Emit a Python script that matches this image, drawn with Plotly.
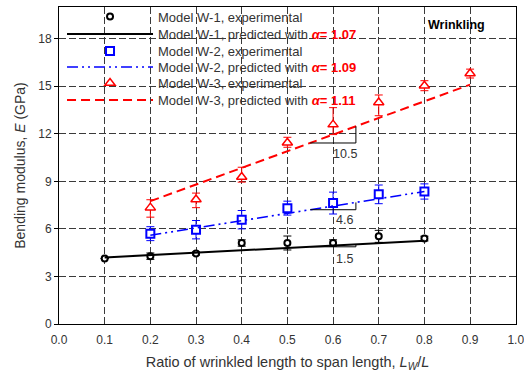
import plotly.graph_objects as go

# Ratio of wrinkled length to span length (L_W / L)
x_w1 = [0.1, 0.2, 0.3, 0.4, 0.5, 0.6, 0.7, 0.8]
x_w2 = [0.2, 0.3, 0.4, 0.5, 0.6, 0.7, 0.8]
x_w3 = [0.2, 0.3, 0.4, 0.5, 0.6, 0.7, 0.8, 0.9]

# Experimental bending modulus (GPa) with scatter
exp_w1 = [4.13, 4.28, 4.45, 5.11, 5.11, 5.11, 5.53, 5.39]
up_w1 = [0.0, 0.2, 0.1, 0.2, 0.44, 0.2, 0.38, 0.15]
dn_w1 = [0.0, 0.2, 0.1, 0.2, 0.44, 0.2, 0.38, 0.15]

exp_w2 = [5.70, 5.95, 6.58, 7.31, 7.63, 8.18, 8.36]
up_w2 = [0.44, 0.58, 0.58, 0.44, 0.69, 0.59, 0.48]
dn_w2 = [0.44, 0.58, 0.58, 0.44, 0.69, 0.59, 0.48]

exp_w3 = [7.34, 7.86, 9.27, 11.43, 12.58, 13.98, 15.03, 15.80]
up_w3 = [0.50, 0.40, 0.62, 0.35, 1.07, 0.47, 0.32, 0.28]
dn_w3 = [0.60, 0.52, 0.32, 0.28, 0.63, 0.84, 0.31, 0.28]

# Predicted bending modulus (GPa)
pred_w1 = [4.20, 4.35, 4.50, 4.65, 4.80, 4.95, 5.10, 5.25]
pred_w2 = [5.60, 6.06, 6.52, 6.98, 7.44, 7.90, 8.36]
pred_w3 = [7.75, 8.80, 9.85, 10.90, 11.95, 13.00, 14.05, 15.10]

alphas = ["1.07", "1.09", "1.11"]

# Slope triangles (x legs, y legs per model) and their slope labels
tri_x = [0.55, 0.65, 0.65]
tri_y_w1 = [4.87, 4.87, 5.02]
tri_y_w2 = [7.21, 7.21, 7.67]
tri_y_w3 = [11.42, 11.42, 12.47]
slope_labels = ["1.5", "4.6", "10.5"]
slope_label_y = [4.13, 6.54, 10.74]
slope_label_x = 0.626

x_ticks = [0.0, 0.1, 0.2, 0.3, 0.4, 0.5, 0.6, 0.7, 0.8, 0.9, 1.0]
y_ticks = [0, 3, 6, 9, 12, 15, 18]

FONT = "Liberation Sans, Arial, sans-serif"
TXT = "#333333"

# one single-entry legend per row so the rows sit tightly stacked
LEGEND_X = 0.0066
LEGEND_ROWS_Y = [0.970, 0.9148, 0.8612, 0.8107, 0.7603, 0.7066]


def pred_name(model, a):
    return (f"Model {model}, predicted with "
            f"<span style='color:#ff0000'><b><i>α</i>= {a}</b></span>")


fig = go.Figure()

series = [
    ("W-1", x_w1, exp_w1, up_w1, dn_w1, pred_w1, "black",
     dict(symbol="circle", size=6, color="white", line=dict(color="black", width=2)),
     dict(color="black", width=2, dash="solid")),
    ("W-2", x_w2, exp_w2, up_w2, dn_w2, pred_w2, "#0000ff",
     dict(symbol="square", size=8, color="white", line=dict(color="#0000ff", width=2)),
     dict(color="#0000ff", width=1.6, dash="11px,4px,2px,4px,2px,4px")),
    ("W-3", x_w3, exp_w3, up_w3, dn_w3, pred_w3, "#ff0000",
     dict(symbol="triangle-up", size=9, color="white", line=dict(color="#ff0000", width=1.5)),
     dict(color="#ff0000", width=2, dash="9px,5px")),
]

legend_ids = ["legend", "legend2", "legend3", "legend4", "legend5", "legend6"]

for i, (model, xs, ys, up, dn, pred, col, mk, ln) in enumerate(series):
    fig.add_trace(go.Scatter(
        x=xs, y=ys, mode="markers", marker=mk,
        error_y=dict(type="data", array=up, arrayminus=dn, symmetric=False,
                     color=col, thickness=1, width=4),
        name=f"Model {model}, experimental", legend=legend_ids[2 * i],
    ))
    fig.add_trace(go.Scatter(
        x=xs, y=pred, mode="lines", line=ln,
        name=pred_name(model, alphas[i]), legend=legend_ids[2 * i + 1],
    ))

for ty in (tri_y_w1, tri_y_w2, tri_y_w3):
    fig.add_trace(go.Scatter(
        x=tri_x, y=ty, mode="lines", line=dict(color="black", width=1),
        showlegend=False, hoverinfo="skip",
    ))

for lab, ly in zip(slope_labels, slope_label_y):
    fig.add_annotation(x=slope_label_x, y=ly, text=lab, showarrow=False,
                       font=dict(family=FONT, size=12.5, color=TXT))

fig.add_annotation(x=0.871, y=18.88, text="<b>Wrinkling</b>", showarrow=False,
                   font=dict(family=FONT, size=12.5, color="black"))

grid = dict(showgrid=True, gridcolor="#3a3a3a", gridwidth=1, griddash="7px,3px",
            showline=True, linecolor="black", linewidth=1, mirror=True,
            zeroline=False, automargin=False)

legend_style = dict(xanchor="left", yanchor="middle", bgcolor="rgba(0,0,0,0)",
                    borderwidth=0, itemwidth=86,
                    font=dict(family=FONT, size=13, color=TXT))

layout_legends = {}
for lid, ly in zip(legend_ids, LEGEND_ROWS_Y):
    layout_legends[lid] = dict(x=LEGEND_X, y=ly, **legend_style)

fig.update_layout(
    width=524, height=385,
    margin=dict(l=59, r=8, t=7, b=61, pad=0, autoexpand=False),
    paper_bgcolor="white", plot_bgcolor="white",
    font=dict(family=FONT, size=12, color=TXT),
    showlegend=True,
    **layout_legends,
    xaxis=dict(range=[0, 1.0005], tickvals=x_ticks,
               ticktext=[f"{v:.1f}" for v in x_ticks],
               ticklabeloverflow="allow",
               ticks="outside", ticklen=5, tickcolor="rgba(0,0,0,0)",
               title=dict(text="Ratio of wrinkled length to span length, "
                               "<i>L</i><sub><i>W</i></sub>/<i>L</i>",
                          font=dict(family=FONT, size=14.5, color=TXT), standoff=10),
               tickfont=dict(family=FONT, size=12, color=TXT), **grid),
    yaxis=dict(range=[0, 20], tickvals=y_ticks,
               ticks="outside", ticklen=4, tickcolor="black",
               title=dict(text="Bending modulus, <i>E</i> (GPa)",
                          font=dict(family=FONT, size=14, color=TXT), standoff=9),
               tickfont=dict(family=FONT, size=12, color=TXT), **grid),
)

fig.write_html("out.html")
